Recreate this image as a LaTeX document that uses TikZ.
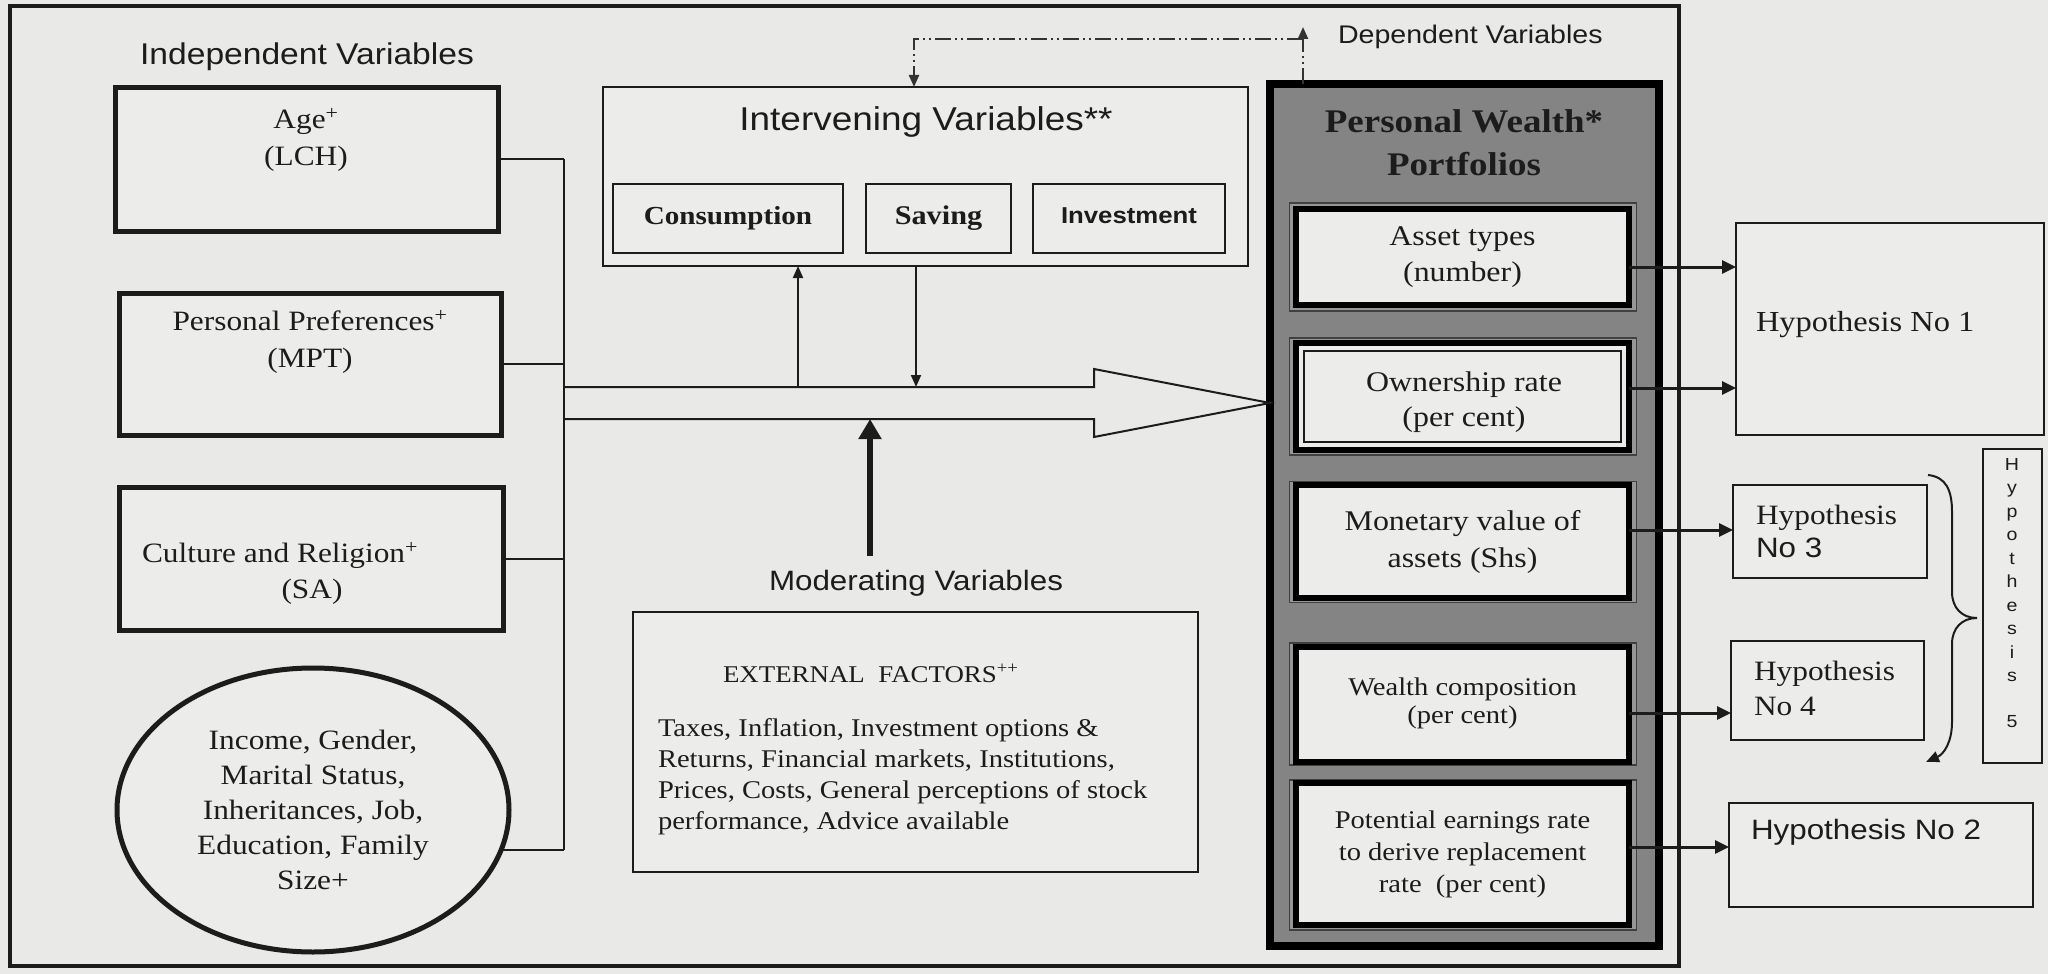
\documentclass[tikz,border=0pt]{standalone}
\usepackage{fontspec}
\setmainfont{Liberation Serif}[FakeStretch=1.12]
\setsansfont{Liberation Sans}[FakeStretch=1.12]
\usetikzlibrary{arrows.meta,shapes.geometric,calc}
\definecolor{bg}{RGB}{233,233,231}
\definecolor{ink}{RGB}{28,28,28}
\definecolor{pwgray}{RGB}{132,132,132}
\definecolor{band}{RGB}{150,150,150}
\definecolor{boxfill}{RGB}{236,236,234}
\newcommand\myfs[2]{\fontsize{#1}{#2}\selectfont}
\begin{document}
\begin{tikzpicture}[x=1pt,y=-1pt,
  every node/.style={inner sep=0pt, outer sep=0pt, text=ink},
  conn/.style={draw=ink, line width=2pt},
  stip/.style={-{Triangle[length=12pt,width=10pt]}},
  harrow/.style={draw=ink, line width=3pt, -{Triangle[length=14pt,width=13pt]}},
  thickbox/.style={rectangle, draw=ink, line width=5pt, fill=boxfill},
  thinbox/.style={rectangle, draw=ink, line width=2pt, fill=boxfill},
  subouter/.style={rectangle, draw=black!75, line width=1.5pt, fill=band},
  subinner/.style={rectangle, draw=black, line width=6pt, fill=boxfill, align=center},
  serif28/.style={font=\myfs{28}{37}},
  sanslbl/.style={font=\sffamily\myfs{#1}{#1}},
  ddash/.style={draw=black!80, line width=2.2pt, dash pattern=on 16pt off 4pt on 2pt off 4pt on 2pt off 4pt}
]
\fill[bg] (0,0) rectangle (2048,974);
\useasboundingbox (0,0) rectangle (2048,974);
\draw[ink, line width=4.5pt] (10,6) rectangle (1679,966);

% ---------- independent variables ----------
\node[sanslbl=30] (indep) at (307,57) {Independent Variables};
\node[thickbox, minimum width=383pt, minimum height=144pt] (age) at (306.5,159) {};
\node[serif28, align=center] (agetxt) at (306,140) {Age\textsuperscript{+}\\(LCH)};
\node[thickbox, minimum width=382pt, minimum height=142pt] (pref) at (310,364) {};
\node[serif28, align=center] (preftxt) at (310,342) {Personal Preferences\textsuperscript{+}\\(MPT)};
\node[thickbox, minimum width=384pt, minimum height=143pt] (cult) at (311,558.5) {};
\node[serif28] (culttxt) at (280,555) {Culture and Religion\textsuperscript{+}};
\node[serif28] (satxt) at (312,592) {(SA)};
\node[ellipse, draw=ink, line width=5pt, fill=boxfill, minimum width=392pt, minimum height=284pt,
      font=\myfs{28}{35}, align=center] (ell) at (313,810)
  {Income, Gender,\\Marital Status,\\Inheritances, Job,\\Education, Family\\Size+};

% bus
\coordinate (bx) at (564,0);
\coordinate (ellc) at (ell.-12);
\draw[conn] (age.east) -- (age.east -| bx);
\draw[conn] (pref.east) -- (pref.east -| bx);
\draw[conn] (cult.east) -- (cult.east -| bx);
\draw[conn] (ellc) -- (ellc -| bx);
\draw[conn] (age.east -| bx) -- (ellc -| bx);

% ---------- intervening ----------
\node[rectangle, draw=ink, line width=2pt, fill=boxfill, minimum width=645pt, minimum height=179pt] (inter) at (925.5,176.5) {};
\node[sanslbl=33] (intertxt) at (926,122) {Intervening Variables**};
\node[thinbox, minimum width=230pt, minimum height=69pt, font=\bfseries\myfs{26}{30}] (cons) at (728,218.5) {Consumption};
\node[thinbox, minimum width=145pt, minimum height=69pt, font=\bfseries\myfs{27}{30}] (sav) at (938.5,218.5) {Saving};
\node[thinbox, minimum width=192pt, minimum height=69pt, font=\sffamily\bfseries\myfs{23}{28}] (inv) at (1129,218.5) {\raisebox{6pt}{Investment}};

% ---------- personal wealth ----------
\node[rectangle, draw=black, line width=8pt, fill=pwgray, minimum width=389pt, minimum height=862pt] (pw) at (1464.5,515) {};
\node[font=\bfseries\myfs{33}{43}, align=center] (pwtxt) at (1464,143) {Personal Wealth*\\Portfolios};

\node[subouter, minimum width=347pt, minimum height=108pt] (asseto) at (1463,257) {};
\node[subinner, minimum width=333pt, minimum height=96pt, font=\myfs{28.5}{36}] (asset) at (1462.5,257) {Asset types\\(number)};
\node[subouter, minimum width=347pt, minimum height=117pt] (owno) at (1463,396.5) {};
\node[subinner, minimum width=333pt, minimum height=107pt] (own) at (1462.5,396.5) {};
\draw[ink, line width=1.5pt] ([shift={(8pt,8pt)}]own.south west) rectangle ([shift={(-8pt,-8pt)}]own.north east);
\node[font=\myfs{28.5}{35}, align=center] (owntxt) at (1464,402) {Ownership rate\\(per cent)};
\node[subouter, minimum width=347pt, minimum height=121pt] (mono) at (1463,542) {};
\node[subinner, minimum width=333pt, minimum height=113pt, font=\myfs{28.5}{37}] (mon) at (1462.5,541.5) {Monetary value of\\assets (Shs)};
\node[subouter, minimum width=347pt, minimum height=122pt] (wco) at (1463,704) {};
\node[subinner, minimum width=333pt, minimum height=115pt, font=\myfs{25.5}{33}] (wc) at (1462.5,704.5) {\raisebox{8pt}{\shortstack{Wealth composition\\[2pt](per cent)}}};
\node[subouter, minimum width=347pt, minimum height=150pt] (poto) at (1463,855) {};
\node[subinner, minimum width=333pt, minimum height=142pt, font=\myfs{25.5}{32}] (pot) at (1462.5,854) {Potential earnings rate\\to derive replacement\\rate~ (per cent)};

% ---------- dependent dash-dot ----------
\coordinate (dd1) at (914,39);
\coordinate (dd2) at (1303,39);
\coordinate (ddtop) at (1303,27);
\draw[ddash, stip] (dd2) -- (dd1) -- (dd1 |- inter.north);
\draw[ddash, stip] (ddtop |- pw.north) -- (ddtop);
\node[sanslbl=25.5, anchor=west] (deptxt) at (1338,37) {Dependent Variables};

% ---------- big arrow ----------
\coordinate (tipy) at (0,403);
\coordinate (tip) at (pw.west |- tipy);
\draw[conn, line join=miter] (564,387) -- (1094,387) -- (1094,369) -- (tip) -- (1094,437) -- (1094,419) -- (564,419);
\coordinate (u1) at (798,387);
\coordinate (d1) at (916,387);
\draw[conn, stip] (u1) -- (u1 |- inter.south);
\draw[conn, stip] (d1 |- inter.south) -- (d1);

% ---------- moderating ----------
\node[sanslbl=28] (modtxt) at (916,583) {Moderating Variables};
\coordinate (m0) at (870,556);
\coordinate (m1) at (870,419);
\draw[draw=ink, line width=6pt, -{Triangle[length=20pt,width=22pt]}] (m0) -- (m1);
\node[rectangle, draw=ink, line width=1.5pt, fill=boxfill, minimum width=565pt, minimum height=260pt] (ext) at (915.5,742) {};
\node[font=\myfs{24}{28}, anchor=west] (exttitle) at (723,673) {EXTERNAL~ FACTORS\textsuperscript{++}};
\node[font=\myfs{25.5}{31}, anchor=west, align=left] (extbody) at (658,777)
  {Taxes, Inflation, Investment options \&\\Returns, Financial markets, Institutions,\\Prices, Costs, General perceptions of stock\\performance, Advice available};

% ---------- hypotheses ----------
\node[thinbox, minimum width=308pt, minimum height=212pt] (h1) at (1890,329) {};
\node[font=\myfs{29}{34}, anchor=west] (h1txt) at (1756,325) {Hypothesis No 1};
\node[thinbox, minimum width=194pt, minimum height=93pt] (h3) at (1830,531.5) {};
\node[font=\myfs{28}{33}, anchor=west, align=left] (h3txt) at (1756,531) {Hypothesis\\{\sffamily No 3}};
\node[thinbox, minimum width=193pt, minimum height=99pt] (h4) at (1827.5,690.5) {};
\node[font=\myfs{28}{35}, anchor=west, align=left] (h4txt) at (1754,688) {Hypothesis\\No 4};
\node[thinbox, minimum width=304pt, minimum height=104pt] (h2) at (1881,855) {};
\node[sanslbl=28, anchor=west] (h2txt) at (1751,832) {Hypothesis No 2};
\node[thinbox, minimum width=59pt, minimum height=314pt] (h5) at (2012.5,606) {};
\node[font=\sffamily\myfs{17.5}{23.5}, align=center, anchor=north] (h5txt) at (2012,458)
  {H\\y\\p\\o\\t\\h\\e\\s\\i\\s\\[22pt]5};

\coordinate (a1) at ([yshift=-10pt]asset.east);
\coordinate (a2) at ([yshift=8.5pt]own.east);
\coordinate (a3) at ([yshift=11.5pt]mon.east);
\coordinate (a4) at ([yshift=-8.5pt]wc.east);
\coordinate (a5) at ([yshift=7pt]pot.east);
\draw[harrow] (a1) -- (a1 -| h1.west);
\draw[harrow] (a2) -- (a2 -| h1.west);
\draw[harrow] (a3) -- (a3 -| h3.west);
\draw[harrow] (a4) -- (a4 -| h4.west);
\draw[harrow] (a5) -- (a5 -| h2.west);

% brace
\coordinate (br0) at (1928,475);
\coordinate (brm) at (1977,618);
\coordinate (br1) at (1926,762);
\draw[draw=ink, line width=2pt, -{Triangle[length=13pt,width=11pt]}]
  (br0) .. controls (1946,477) and (1952,490) .. (1952,512) -- (1952,592)
  .. controls (1952,608) and (1962,618) .. (brm)
  .. controls (1962,618) and (1952,628) .. (1952,644) -- (1952,722)
  .. controls (1952,742) and (1944,754) .. (br1);
\end{tikzpicture}
\end{document}
